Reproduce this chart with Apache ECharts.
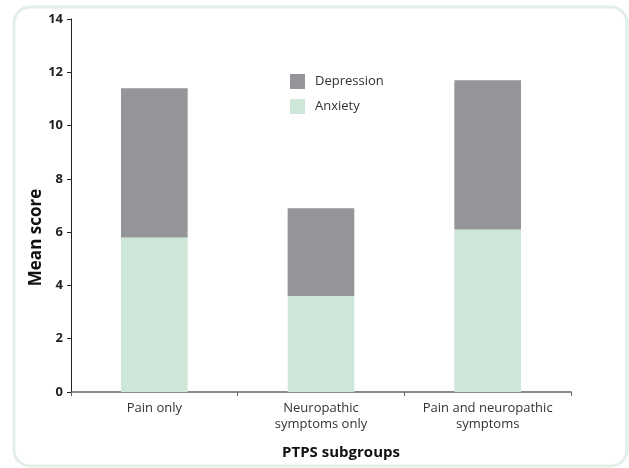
<!DOCTYPE html>
<html>
<head>
<meta charset="utf-8">
<script src="https://cdn.jsdelivr.net/npm/echarts@6/dist/echarts.min.js"></script>
<style>
  html, body { margin: 0; padding: 0; background: #fff; }
  #chart { width: 629px; height: 468px; }
</style>
</head>
<body>
<div id="chart"></div>
<script>
var categories = ['Pain only', 'Neuropathic\nsymptoms only', 'Pain and neuropathic\nsymptoms'];
var anxiety = [5.8, 3.6, 6.1];
var depression = [5.6, 3.3, 5.6];

var chart = echarts.init(document.getElementById('chart'));
var option = {
  animation: false,
  textStyle: { fontFamily: 'Open Sans' },
  graphic: [{
    type: 'rect',
    shape: { x: 14, y: 7, width: 613, height: 459, r: 16 },
    style: { fill: 'none', stroke: '#e2efe7', lineWidth: 3 },
    silent: true
  }],
  legend: {
    orient: 'vertical',
    left: 290,
    top: 74,
    padding: 0,
    itemWidth: 15,
    itemHeight: 15,
    itemGap: 10,
    icon: 'rect',
    data: ['Depression', 'Anxiety'],
    textStyle: { fontSize: 13, color: '#333', padding: [0, 0, 0, 5] }
  },
  grid: { left: 71, right: 58, top: 19, bottom: 76 },
  xAxis: {
    type: 'category',
    data: categories,
    name: 'PTPS subgroups',
    nameLocation: 'middle',
    nameGap: 53,
    nameMoveOverlap: false,
    nameTextStyle: { fontWeight: 'bold', fontSize: 15, color: '#111', padding: [0, 0, 0, 40] },
    axisLine: { lineStyle: { color: '#666', width: 1.5 } },
    axisTick: { show: true, length: 4, lineStyle: { color: '#666' } },
    axisLabel: { interval: 0, fontSize: 13, color: '#333', lineHeight: 16, margin: 8 }
  },
  yAxis: {
    type: 'value',
    min: 0,
    max: 14,
    interval: 2,
    name: 'Mean score',
    nameLocation: 'middle',
    nameGap: 26,
    nameMoveOverlap: false,
    nameTextStyle: { fontWeight: 'bold', fontSize: 17, color: '#111', padding: [0, 64, 0, 0] },
    splitLine: { show: false },
    axisLine: { show: true, lineStyle: { color: '#222', width: 1 } },
    axisTick: { show: true, length: 4, lineStyle: { color: '#222' } },
    axisLabel: { fontWeight: 'bold', fontSize: 13, color: '#222', margin: 8 }
  },
  series: [
    {
      name: 'Anxiety',
      type: 'bar',
      stack: 'total',
      barWidth: '40%',
      data: anxiety,
      itemStyle: { color: '#cde6d7' }
    },
    {
      name: 'Depression',
      type: 'bar',
      stack: 'total',
      data: depression,
      itemStyle: { color: '#939598' }
    }
  ]
};
chart.setOption(option);
</script>
</body>
</html>
